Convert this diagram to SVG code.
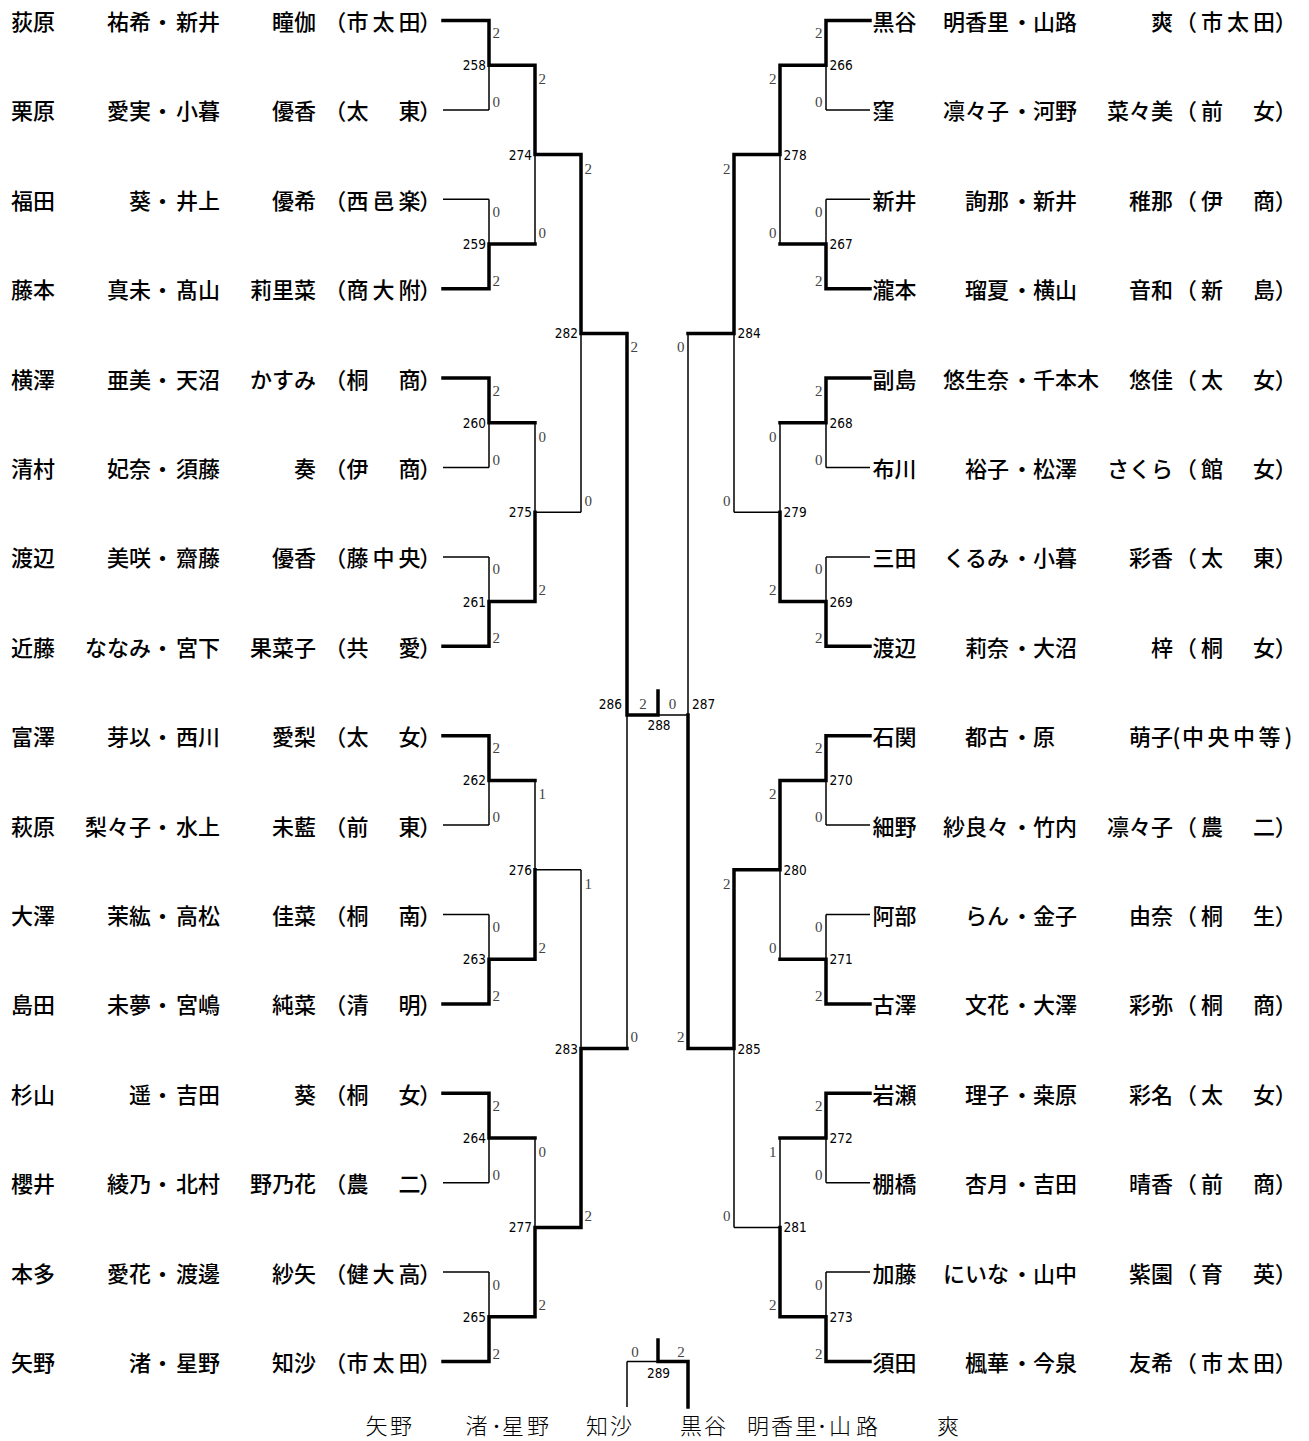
<svg xmlns="http://www.w3.org/2000/svg" width="1309" height="1441" viewBox="0 0 1309 1441">
<style>
.n{font-family:"Noto Sans CJK JP","Noto Sans CJK SC",sans-serif;font-size:22px;font-weight:500;fill:#000}
.e{text-anchor:end}
.c{text-anchor:middle}
.s{font-family:"Liberation Serif",serif;font-size:15px;fill:#444}
.m{font-family:"DejaVu Sans Condensed","DejaVu Sans",sans-serif;font-stretch:condensed;font-size:13.5px;fill:#000}
.b{font-family:"Liberation Serif","Noto Sans CJK JP",serif;font-size:22px;font-weight:300;fill:#000}
.k{fill:none;stroke:#000;stroke-width:3.5;stroke-linecap:square}
.t{fill:none;stroke:#000;stroke-width:1.5}
</style>
<rect width="1309" height="1441" fill="#fff"/>
<g id="connectors">
<path class="t" d="M443 109.9H489M443 199.3H489M443 467.5H489M443 556.9H489M443 825.1H489M443 914.5H489M443 1182.7H489M443 1272.1H489
M489 65.2V109.9M489 199.3V244M489 422.8V467.5M489 556.9V601.6M489 780.4V825.1M489 914.5V959.2M489 1138V1182.7M489 1272.1V1316.8
M535 154.6V244M535 422.8V512.2M535 780.4V869.8M535 1138V1227.4
M535 512.2H581M535 869.8H581
M581 333.4V512.2M581 869.8V1048.6
M627 715V1048.6M658 715H688M688 333.4V715
M627 1361.5H658M627 1361.5V1407
M734 333.4V512.2M734 1048.6V1227.4
M734 512.2H780M734 1227.4H780
M780 154.6V244M780 422.8V512.2M780 869.8V959.2M780 1138V1227.4
M826 65.2V109.9M826 199.3V244M826 422.8V467.5M826 556.9V601.6M826 780.4V825.1M826 914.5V959.2M826 1138V1182.7M826 1272.1V1316.8
M826 109.9H870M826 199.3H870M826 467.5H870M826 556.9H870M826 825.1H870M826 914.5H870M826 1182.7H870M826 1272.1H870"/>
<path class="k" d="M443 20.5H489M443 288.7H489M443 378.1H489M443 646.3H489M443 735.7H489M443 1003.9H489M443 1093.3H489M443 1361.5H489
M489 20.5V65.2M489 244V288.7M489 378.1V422.8M489 601.6V646.3M489 735.7V780.4M489 959.2V1003.9M489 1093.3V1138M489 1316.8V1361.5
M489 65.2H535M489 244H535M489 422.8H535M489 601.6H535M489 780.4H535M489 959.2H535M489 1138H535M489 1316.8H535
M535 65.2V154.6M535 512.2V601.6M535 869.8V959.2M535 1227.4V1316.8
M535 154.6H581M535 1227.4H581
M581 154.6V333.4M581 1048.6V1227.4
M581 333.4H627M581 1048.6H627
M627 333.4V715M627 715H658M658 715V691
M658 1361.5H688M658 1340V1361.5M688 1361.5V1407
M688 715V1048.6
M688 333.4H734M688 1048.6H734
M734 154.6V333.4M734 869.8V1048.6
M734 154.6H780M734 869.8H780
M780 65.2V154.6M780 512.2V601.6M780 780.4V869.8M780 1227.4V1316.8
M780 65.2H826M780 244H826M780 422.8H826M780 601.6H826M780 780.4H826M780 959.2H826M780 1138H826M780 1316.8H826
M826 20.5V65.2M826 244V288.7M826 378.1V422.8M826 601.6V646.3M826 735.7V780.4M826 959.2V1003.9M826 1093.3V1138M826 1316.8V1361.5
M826 20.5H870M826 288.7H870M826 378.1H870M826 646.3H870M826 735.7H870M826 1003.9H870M826 1093.3H870M826 1361.5H870"/>
</g>
<g id="L0" transform="translate(0 20.5)"><text class="n" x="11" y="9.4">荻原</text><text class="n e" x="151" y="9.4">祐希</text><text class="n c" x="162.5" y="9.4">・</text><text class="n" x="176" y="9.4">新井</text><text class="n e" x="316" y="9.4">瞳伽</text><text class="n c" x="335.2 357.5 383.5 409.5 430.3" y="9.4">（市太田）</text></g>
<g id="L1" transform="translate(0 109.9)"><text class="n" x="11" y="9.4">栗原</text><text class="n e" x="151" y="9.4">愛実</text><text class="n c" x="162.5" y="9.4">・</text><text class="n" x="176" y="9.4">小暮</text><text class="n e" x="316" y="9.4">優香</text><text class="n c" x="335.2 357.5 383.5 409.5 430.3" y="9.4">（太　東）</text></g>
<g id="L2" transform="translate(0 199.3)"><text class="n" x="11" y="9.4">福田</text><text class="n e" x="151" y="9.4">葵</text><text class="n c" x="162.5" y="9.4">・</text><text class="n" x="176" y="9.4">井上</text><text class="n e" x="316" y="9.4">優希</text><text class="n c" x="335.2 357.5 383.5 409.5 430.3" y="9.4">（西邑楽）</text></g>
<g id="L3" transform="translate(0 288.7)"><text class="n" x="11" y="9.4">藤本</text><text class="n e" x="151" y="9.4">真未</text><text class="n c" x="162.5" y="9.4">・</text><text class="n" x="176" y="9.4">髙山</text><text class="n e" x="316" y="9.4">莉里菜</text><text class="n c" x="335.2 357.5 383.5 409.5 430.3" y="9.4">（商大附）</text></g>
<g id="L4" transform="translate(0 378.1)"><text class="n" x="11" y="9.4">横澤</text><text class="n e" x="151" y="9.4">亜美</text><text class="n c" x="162.5" y="9.4">・</text><text class="n" x="176" y="9.4">天沼</text><text class="n e" x="316" y="9.4">かすみ</text><text class="n c" x="335.2 357.5 383.5 409.5 430.3" y="9.4">（桐　商）</text></g>
<g id="L5" transform="translate(0 467.5)"><text class="n" x="11" y="9.4">清村</text><text class="n e" x="151" y="9.4">妃奈</text><text class="n c" x="162.5" y="9.4">・</text><text class="n" x="176" y="9.4">須藤</text><text class="n e" x="316" y="9.4">奏</text><text class="n c" x="335.2 357.5 383.5 409.5 430.3" y="9.4">（伊　商）</text></g>
<g id="L6" transform="translate(0 556.9)"><text class="n" x="11" y="9.4">渡辺</text><text class="n e" x="151" y="9.4">美咲</text><text class="n c" x="162.5" y="9.4">・</text><text class="n" x="176" y="9.4">齋藤</text><text class="n e" x="316" y="9.4">優香</text><text class="n c" x="335.2 357.5 383.5 409.5 430.3" y="9.4">（藤中央）</text></g>
<g id="L7" transform="translate(0 646.3)"><text class="n" x="11" y="9.4">近藤</text><text class="n e" x="151" y="9.4">ななみ</text><text class="n c" x="162.5" y="9.4">・</text><text class="n" x="176" y="9.4">宮下</text><text class="n e" x="316" y="9.4">果菜子</text><text class="n c" x="335.2 357.5 383.5 409.5 430.3" y="9.4">（共　愛）</text></g>
<g id="L8" transform="translate(0 735.7)"><text class="n" x="11" y="9.4">富澤</text><text class="n e" x="151" y="9.4">芽以</text><text class="n c" x="162.5" y="9.4">・</text><text class="n" x="176" y="9.4">西川</text><text class="n e" x="316" y="9.4">愛梨</text><text class="n c" x="335.2 357.5 383.5 409.5 430.3" y="9.4">（太　女）</text></g>
<g id="L9" transform="translate(0 825.1)"><text class="n" x="11" y="9.4">萩原</text><text class="n e" x="151" y="9.4">梨々子</text><text class="n c" x="162.5" y="9.4">・</text><text class="n" x="176" y="9.4">水上</text><text class="n e" x="316" y="9.4">未藍</text><text class="n c" x="335.2 357.5 383.5 409.5 430.3" y="9.4">（前　東）</text></g>
<g id="L10" transform="translate(0 914.5)"><text class="n" x="11" y="9.4">大澤</text><text class="n e" x="151" y="9.4">茉紘</text><text class="n c" x="162.5" y="9.4">・</text><text class="n" x="176" y="9.4">高松</text><text class="n e" x="316" y="9.4">佳菜</text><text class="n c" x="335.2 357.5 383.5 409.5 430.3" y="9.4">（桐　南）</text></g>
<g id="L11" transform="translate(0 1003.9)"><text class="n" x="11" y="9.4">島田</text><text class="n e" x="151" y="9.4">未夢</text><text class="n c" x="162.5" y="9.4">・</text><text class="n" x="176" y="9.4">宮嶋</text><text class="n e" x="316" y="9.4">純菜</text><text class="n c" x="335.2 357.5 383.5 409.5 430.3" y="9.4">（清　明）</text></g>
<g id="L12" transform="translate(0 1093.3)"><text class="n" x="11" y="9.4">杉山</text><text class="n e" x="151" y="9.4">遥</text><text class="n c" x="162.5" y="9.4">・</text><text class="n" x="176" y="9.4">吉田</text><text class="n e" x="316" y="9.4">葵</text><text class="n c" x="335.2 357.5 383.5 409.5 430.3" y="9.4">（桐　女）</text></g>
<g id="L13" transform="translate(0 1182.7)"><text class="n" x="11" y="9.4">櫻井</text><text class="n e" x="151" y="9.4">綾乃</text><text class="n c" x="162.5" y="9.4">・</text><text class="n" x="176" y="9.4">北村</text><text class="n e" x="316" y="9.4">野乃花</text><text class="n c" x="335.2 357.5 383.5 409.5 430.3" y="9.4">（農　二）</text></g>
<g id="L14" transform="translate(0 1272.1)"><text class="n" x="11" y="9.4">本多</text><text class="n e" x="151" y="9.4">愛花</text><text class="n c" x="162.5" y="9.4">・</text><text class="n" x="176" y="9.4">渡邊</text><text class="n e" x="316" y="9.4">紗矢</text><text class="n c" x="335.2 357.5 383.5 409.5 430.3" y="9.4">（健大高）</text></g>
<g id="L15" transform="translate(0 1361.5)"><text class="n" x="11" y="9.4">矢野</text><text class="n e" x="151" y="9.4">渚</text><text class="n c" x="162.5" y="9.4">・</text><text class="n" x="176" y="9.4">星野</text><text class="n e" x="316" y="9.4">知沙</text><text class="n c" x="335.2 357.5 383.5 409.5 430.3" y="9.4">（市太田）</text></g>
<g id="R0" transform="translate(0 20.5)"><text class="n" x="872.5" y="9.4">黒谷</text><text class="n e" x="1009" y="9.4">明香里</text><text class="n c" x="1022" y="9.4">・</text><text class="n" x="1033" y="9.4">山路</text><text class="n e" x="1173" y="9.4">爽</text><text class="n c" x="1186 1212 1238 1264 1285.8" y="9.4">（市太田）</text></g>
<g id="R1" transform="translate(0 109.9)"><text class="n" x="872.5" y="9.4">窪</text><text class="n e" x="1009" y="9.4">凛々子</text><text class="n c" x="1022" y="9.4">・</text><text class="n" x="1033" y="9.4">河野</text><text class="n e" x="1173" y="9.4">菜々美</text><text class="n c" x="1186 1212 1238 1264 1285.8" y="9.4">（前　女）</text></g>
<g id="R2" transform="translate(0 199.3)"><text class="n" x="872.5" y="9.4">新井</text><text class="n e" x="1009" y="9.4">詢那</text><text class="n c" x="1022" y="9.4">・</text><text class="n" x="1033" y="9.4">新井</text><text class="n e" x="1173" y="9.4">稚那</text><text class="n c" x="1186 1212 1238 1264 1285.8" y="9.4">（伊　商）</text></g>
<g id="R3" transform="translate(0 288.7)"><text class="n" x="872.5" y="9.4">瀧本</text><text class="n e" x="1009" y="9.4">瑠夏</text><text class="n c" x="1022" y="9.4">・</text><text class="n" x="1033" y="9.4">横山</text><text class="n e" x="1173" y="9.4">音和</text><text class="n c" x="1186 1212 1238 1264 1285.8" y="9.4">（新　島）</text></g>
<g id="R4" transform="translate(0 378.1)"><text class="n" x="872.5" y="9.4">副島</text><text class="n e" x="1009" y="9.4">悠生奈</text><text class="n c" x="1022" y="9.4">・</text><text class="n" x="1033" y="9.4">千本木</text><text class="n e" x="1173" y="9.4">悠佳</text><text class="n c" x="1186 1212 1238 1264 1285.8" y="9.4">（太　女）</text></g>
<g id="R5" transform="translate(0 467.5)"><text class="n" x="872.5" y="9.4">布川</text><text class="n e" x="1009" y="9.4">裕子</text><text class="n c" x="1022" y="9.4">・</text><text class="n" x="1033" y="9.4">松澤</text><text class="n e" x="1173" y="9.4">さくら</text><text class="n c" x="1186 1212 1238 1264 1285.8" y="9.4">（館　女）</text></g>
<g id="R6" transform="translate(0 556.9)"><text class="n" x="872.5" y="9.4">三田</text><text class="n e" x="1009" y="9.4">くるみ</text><text class="n c" x="1022" y="9.4">・</text><text class="n" x="1033" y="9.4">小暮</text><text class="n e" x="1173" y="9.4">彩香</text><text class="n c" x="1186 1212 1238 1264 1285.8" y="9.4">（太　東）</text></g>
<g id="R7" transform="translate(0 646.3)"><text class="n" x="872.5" y="9.4">渡辺</text><text class="n e" x="1009" y="9.4">莉奈</text><text class="n c" x="1022" y="9.4">・</text><text class="n" x="1033" y="9.4">大沼</text><text class="n e" x="1173" y="9.4">梓</text><text class="n c" x="1186 1212 1238 1264 1285.8" y="9.4">（桐　女）</text></g>
<g id="R8" transform="translate(0 735.7)"><text class="n" x="872.5" y="9.4">石関</text><text class="n e" x="1009" y="9.4">都古</text><text class="n c" x="1022" y="9.4">・</text><text class="n" x="1033" y="9.4">原</text><text class="n e" x="1173" y="9.4">萌子</text><text class="n c" x="1176.5 1193 1218.5 1244 1269.5 1288.5" y="9.4">(中央中等)</text></g>
<g id="R9" transform="translate(0 825.1)"><text class="n" x="872.5" y="9.4">細野</text><text class="n e" x="1009" y="9.4">紗良々</text><text class="n c" x="1022" y="9.4">・</text><text class="n" x="1033" y="9.4">竹内</text><text class="n e" x="1173" y="9.4">凛々子</text><text class="n c" x="1186 1212 1238 1264 1285.8" y="9.4">（農　二）</text></g>
<g id="R10" transform="translate(0 914.5)"><text class="n" x="872.5" y="9.4">阿部</text><text class="n e" x="1009" y="9.4">らん</text><text class="n c" x="1022" y="9.4">・</text><text class="n" x="1033" y="9.4">金子</text><text class="n e" x="1173" y="9.4">由奈</text><text class="n c" x="1186 1212 1238 1264 1285.8" y="9.4">（桐　生）</text></g>
<g id="R11" transform="translate(0 1003.9)"><text class="n" x="872.5" y="9.4">古澤</text><text class="n e" x="1009" y="9.4">文花</text><text class="n c" x="1022" y="9.4">・</text><text class="n" x="1033" y="9.4">大澤</text><text class="n e" x="1173" y="9.4">彩弥</text><text class="n c" x="1186 1212 1238 1264 1285.8" y="9.4">（桐　商）</text></g>
<g id="R12" transform="translate(0 1093.3)"><text class="n" x="872.5" y="9.4">岩瀬</text><text class="n e" x="1009" y="9.4">理子</text><text class="n c" x="1022" y="9.4">・</text><text class="n" x="1033" y="9.4">桒原</text><text class="n e" x="1173" y="9.4">彩名</text><text class="n c" x="1186 1212 1238 1264 1285.8" y="9.4">（太　女）</text></g>
<g id="R13" transform="translate(0 1182.7)"><text class="n" x="872.5" y="9.4">棚橋</text><text class="n e" x="1009" y="9.4">杏月</text><text class="n c" x="1022" y="9.4">・</text><text class="n" x="1033" y="9.4">吉田</text><text class="n e" x="1173" y="9.4">晴香</text><text class="n c" x="1186 1212 1238 1264 1285.8" y="9.4">（前　商）</text></g>
<g id="R14" transform="translate(0 1272.1)"><text class="n" x="872.5" y="9.4">加藤</text><text class="n e" x="1009" y="9.4">にいな</text><text class="n c" x="1022" y="9.4">・</text><text class="n" x="1033" y="9.4">山中</text><text class="n e" x="1173" y="9.4">紫園</text><text class="n c" x="1186 1212 1238 1264 1285.8" y="9.4">（育　英）</text></g>
<g id="R15" transform="translate(0 1361.5)"><text class="n" x="872.5" y="9.4">須田</text><text class="n e" x="1009" y="9.4">楓華</text><text class="n c" x="1022" y="9.4">・</text><text class="n" x="1033" y="9.4">今泉</text><text class="n e" x="1173" y="9.4">友希</text><text class="n c" x="1186 1212 1238 1264 1285.8" y="9.4">（市太田）</text></g>
<g id="m258"><text class="m e" x="486" y="70.2">258</text><text class="s" x="492.5" y="38">2</text><text class="s" x="492.5" y="106.9">0</text></g>
<g id="m259"><text class="m e" x="486" y="249">259</text><text class="s" x="492.5" y="216.8">0</text><text class="s" x="492.5" y="285.7">2</text></g>
<g id="m260"><text class="m e" x="486" y="427.8">260</text><text class="s" x="492.5" y="395.6">2</text><text class="s" x="492.5" y="464.5">0</text></g>
<g id="m261"><text class="m e" x="486" y="606.6">261</text><text class="s" x="492.5" y="574.4">0</text><text class="s" x="492.5" y="643.3">2</text></g>
<g id="m262"><text class="m e" x="486" y="785.4">262</text><text class="s" x="492.5" y="753.2">2</text><text class="s" x="492.5" y="822.1">0</text></g>
<g id="m263"><text class="m e" x="486" y="964.2">263</text><text class="s" x="492.5" y="932">0</text><text class="s" x="492.5" y="1000.9">2</text></g>
<g id="m264"><text class="m e" x="486" y="1143">264</text><text class="s" x="492.5" y="1110.8">2</text><text class="s" x="492.5" y="1179.7">0</text></g>
<g id="m265"><text class="m e" x="486" y="1321.8">265</text><text class="s" x="492.5" y="1289.6">0</text><text class="s" x="492.5" y="1358.5">2</text></g>
<g id="m274"><text class="m e" x="532" y="159.6">274</text><text class="s" x="538.5" y="84.2">2</text><text class="s" x="538.5" y="237.5">0</text></g>
<g id="m275"><text class="m e" x="532" y="517.2">275</text><text class="s" x="538.5" y="441.8">0</text><text class="s" x="538.5" y="595.1">2</text></g>
<g id="m276"><text class="m e" x="532" y="874.8">276</text><text class="s" x="538.5" y="799.4">1</text><text class="s" x="538.5" y="952.7">2</text></g>
<g id="m277"><text class="m e" x="532" y="1232.4">277</text><text class="s" x="538.5" y="1157">0</text><text class="s" x="538.5" y="1310.3">2</text></g>
<g id="m282"><text class="m e" x="578" y="338.4">282</text><text class="s" x="584.5" y="173.6">2</text><text class="s" x="584.5" y="505.7">0</text></g>
<g id="m283"><text class="m e" x="578" y="1053.6">283</text><text class="s" x="584.5" y="888.8">1</text><text class="s" x="584.5" y="1220.9">2</text></g>
<g id="m286"><text class="m e" x="622" y="709">286</text><text class="s" x="630.5" y="352.4">2</text><text class="s" x="630.5" y="1042.1">0</text></g>
<g id="m288"><text class="m c" x="659" y="730">288</text><text class="s c" x="643" y="709">2</text><text class="s c" x="672.5" y="709">0</text></g>
<g id="m287"><text class="m" x="692" y="709">287</text><text class="s e" x="684.5" y="352.4">0</text><text class="s e" x="684.5" y="1042.1">2</text></g>
<g id="m284"><text class="m" x="737.5" y="338.4">284</text><text class="s e" x="730.5" y="173.6">2</text><text class="s e" x="730.5" y="505.7">0</text></g>
<g id="m285"><text class="m" x="737.5" y="1053.6">285</text><text class="s e" x="730.5" y="888.8">2</text><text class="s e" x="730.5" y="1220.9">0</text></g>
<g id="m278"><text class="m" x="783.5" y="159.6">278</text><text class="s e" x="776.5" y="84.2">2</text><text class="s e" x="776.5" y="237.5">0</text></g>
<g id="m279"><text class="m" x="783.5" y="517.2">279</text><text class="s e" x="776.5" y="441.8">0</text><text class="s e" x="776.5" y="595.1">2</text></g>
<g id="m280"><text class="m" x="783.5" y="874.8">280</text><text class="s e" x="776.5" y="799.4">2</text><text class="s e" x="776.5" y="952.7">0</text></g>
<g id="m281"><text class="m" x="783.5" y="1232.4">281</text><text class="s e" x="776.5" y="1157">1</text><text class="s e" x="776.5" y="1310.3">2</text></g>
<g id="m266"><text class="m" x="829.5" y="70.2">266</text><text class="s e" x="822.5" y="38">2</text><text class="s e" x="822.5" y="106.9">0</text></g>
<g id="m267"><text class="m" x="829.5" y="249">267</text><text class="s e" x="822.5" y="216.8">0</text><text class="s e" x="822.5" y="285.7">2</text></g>
<g id="m268"><text class="m" x="829.5" y="427.8">268</text><text class="s e" x="822.5" y="395.6">2</text><text class="s e" x="822.5" y="464.5">0</text></g>
<g id="m269"><text class="m" x="829.5" y="606.6">269</text><text class="s e" x="822.5" y="574.4">0</text><text class="s e" x="822.5" y="643.3">2</text></g>
<g id="m270"><text class="m" x="829.5" y="785.4">270</text><text class="s e" x="822.5" y="753.2">2</text><text class="s e" x="822.5" y="822.1">0</text></g>
<g id="m271"><text class="m" x="829.5" y="964.2">271</text><text class="s e" x="822.5" y="932">0</text><text class="s e" x="822.5" y="1000.9">2</text></g>
<g id="m272"><text class="m" x="829.5" y="1143">272</text><text class="s e" x="822.5" y="1110.8">2</text><text class="s e" x="822.5" y="1179.7">0</text></g>
<g id="m273"><text class="m" x="829.5" y="1321.8">273</text><text class="s e" x="822.5" y="1289.6">0</text><text class="s e" x="822.5" y="1358.5">2</text></g>
<g id="m289"><text class="m c" x="658.5" y="1378">289</text><text class="s c" x="635" y="1357">0</text><text class="s c" x="681" y="1357">2</text></g>
<g id="bottom">
<text class="b" x="365.5 390" y="1433.5">矢野</text>
<text class="b" x="465.5 491 502 527" y="1433.5">渚･星野</text>
<text class="b" x="586 610" y="1433.5">知沙</text>
<text class="b" x="680 704" y="1433.5">黒谷</text>
<text class="b" x="747 771 795 816.5 829 856" y="1433.5">明香里･山路</text>
<text class="b" x="937" y="1433.5">爽</text>
</g>
</svg>
